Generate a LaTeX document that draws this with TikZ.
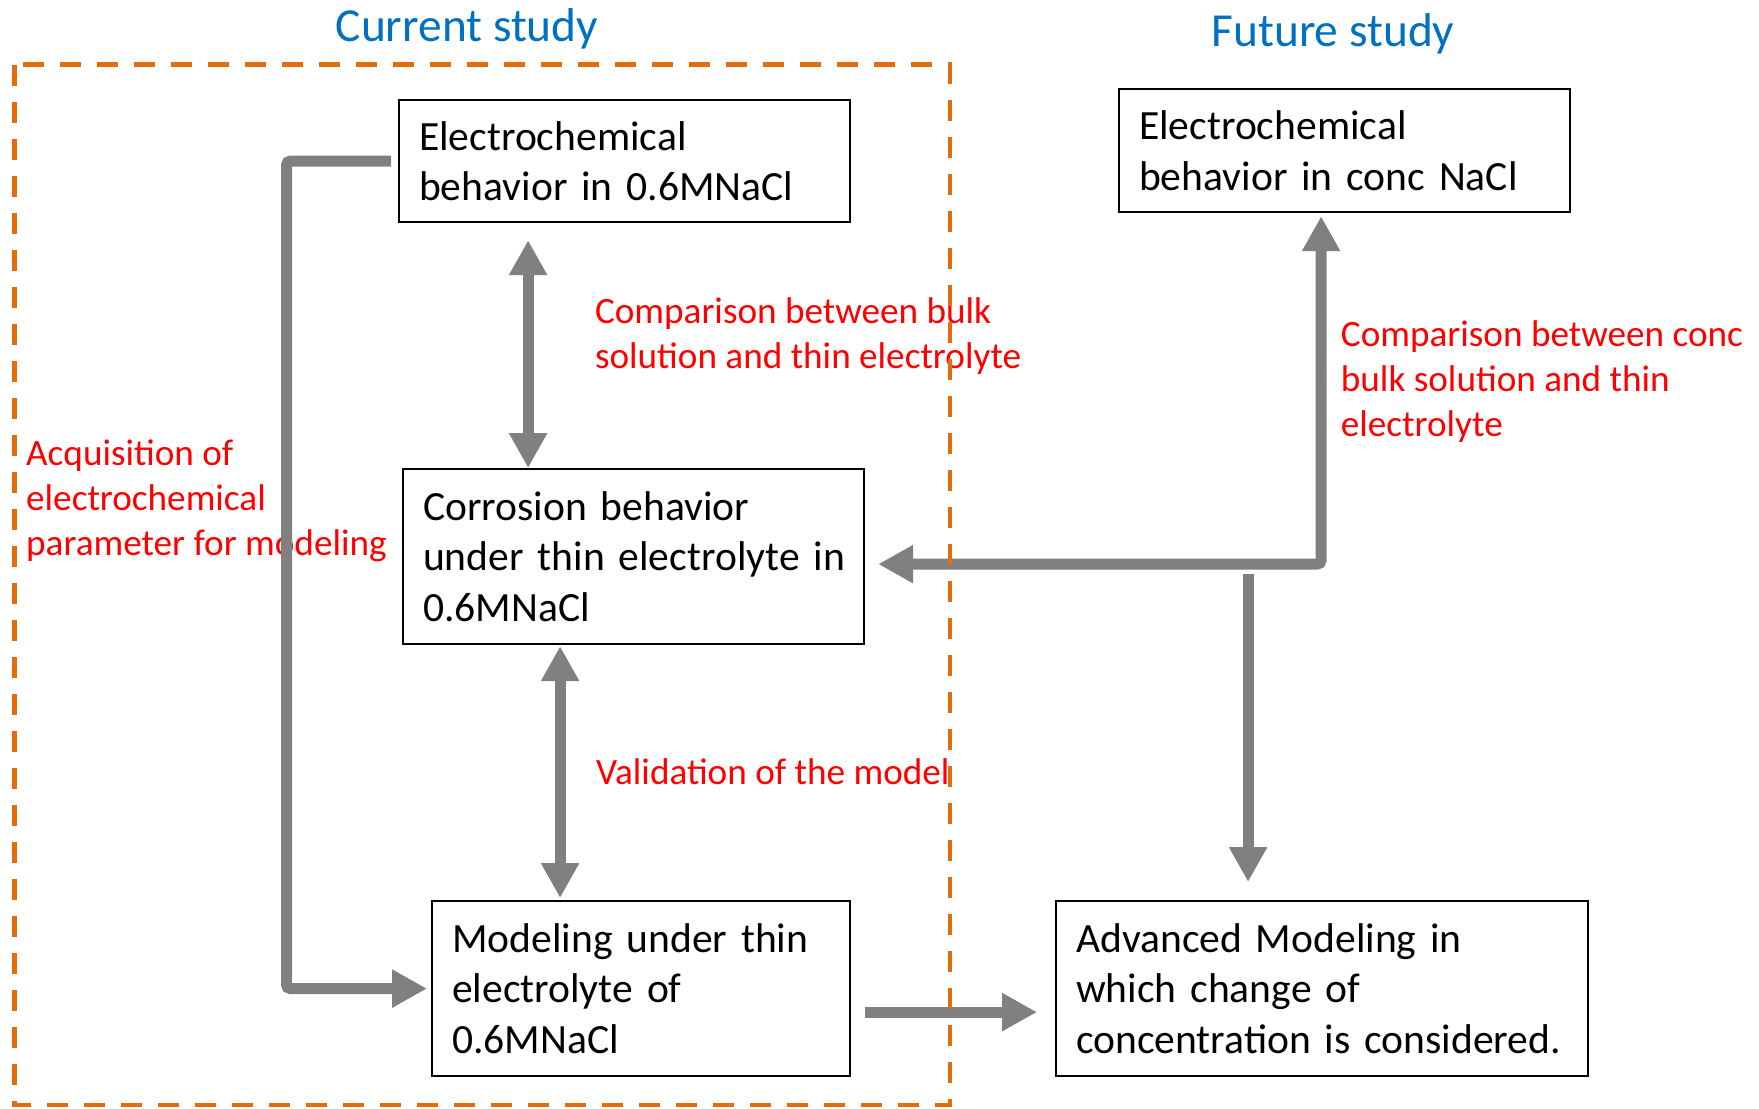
\documentclass[tikz,border=0pt]{standalone}
\usepackage{fontspec}
\setmainfont{Carlito}
\usetikzlibrary{arrows.meta,calc}
\definecolor{ttblue}{RGB}{0,112,192}
\definecolor{lblred}{RGB}{255,0,0}
\definecolor{arrgray}{RGB}{128,128,128}
\definecolor{dashorange}{RGB}{228,108,10}
\begin{document}
\begin{tikzpicture}[x=0.5pt,y=-0.5pt,
 box/.style={draw=black,line width=1.1pt,fill=white,anchor=north west,inner xsep=10pt,inner ysep=0pt,align=left,font=\fontsize{20.8}{25.3}\selectfont},
 lbl/.style={text=lblred,anchor=west,inner sep=0pt,align=left,font=\fontsize{18.6}{22.5}\selectfont},
 ttl/.style={text=ttblue,inner sep=0pt,font=\fontsize{23.7}{28}\selectfont},
 arr/.style={draw=arrgray,line width=5.5pt,-{Triangle[length=17.5pt,width=18pt]}},
 dbl/.style={draw=arrgray,line width=5.5pt,{Triangle[length=17.5pt,width=18pt]}-{Triangle[length=17.5pt,width=18pt]}},
 studybox/.style={draw=dashorange,line width=2.4pt,dash pattern=on 10.5pt off 8pt}
]
\useasboundingbox (0,0) rectangle (1759,1108);

% titles
\node[ttl] (T1) at (467,28.5) {Current study};
\node[ttl] (T2) at (1333,33.5) {Future study};

% boxes
\node[box,text width=205.5pt,minimum height=61pt] (E1) at (398,99)
  {Electrochemical\\\mbox{behavior in 0.6MNaCl}};
\node[box,text width=205.5pt,minimum height=61.5pt] (E2) at (1118,88)
  {Electrochemical\\\mbox{behavior in conc NaCl}};
\node[box,text width=210.5pt,minimum height=87.5pt] (C) at (402,468)
  {Corrosion behavior\\\mbox{under thin electrolyte in}\\0.6MNaCl};
\node[box,text width=189pt,minimum height=87.5pt] (M) at (431,900)
  {\mbox{Modeling under thin}\\electrolyte of\\0.6MNaCl};
\node[box,text width=246pt,minimum height=87.5pt] (A) at (1055,900)
  {\mbox{Advanced Modeling in}\\which change of\\\mbox{concentration is considered.}};

% labels
\node[lbl] (L1) at (594.6,336) {Comparison between bulk\\solution and thin electrolyte};
\node[lbl] (L2) at (1340.5,382) {Comparison between conc\\bulk solution and thin\\electrolyte};
\node[lbl] (L3) at (25.8,500.5) {Acquisition of\\electrochemical\\parameter for modeling};
\node[lbl] (L4) at (595.7,772) {Validation of the model};

% connectors
\coordinate (a1) at ($(E1.south)+(-96.5,17)$);
\draw[dbl] (a1) -- (a1 |- C.north);
\coordinate (a2) at ($(C.south)+(-73.5,1)$);
\draw[dbl] (a2) -- ($(a2 |- M.north)+(0,-2)$);
\coordinate (l1) at ($(E1.west)+(-7,0)$);
\coordinate (l2) at ($(M.west)+(-144.5,0)$);
\draw[arr,rounded corners=2pt] (l1) -| (l2) -- ($(M.west)+(-4,0)$);
\coordinate (m1) at ($(M.east)+(14,23.5)$);
\draw[arr] (m1) -- ($(m1 -| A.west)+(-18,0)$);
\coordinate (c1) at ($(C.east)+(13,7.5)$);
\coordinate (e2b) at ($(E2.south)+(-23.5,3)$);
\draw[dbl,rounded corners=2pt] (c1) -| (e2b);
\coordinate (v1) at ($(A.north)+(-74,-326)$);
\draw[arr] (v1) -- ($(A.north)+(-74,-18)$);

% dashed study frame
\draw[studybox] (14.8,64.6) rectangle (950,1105);
\end{tikzpicture}
\end{document}
